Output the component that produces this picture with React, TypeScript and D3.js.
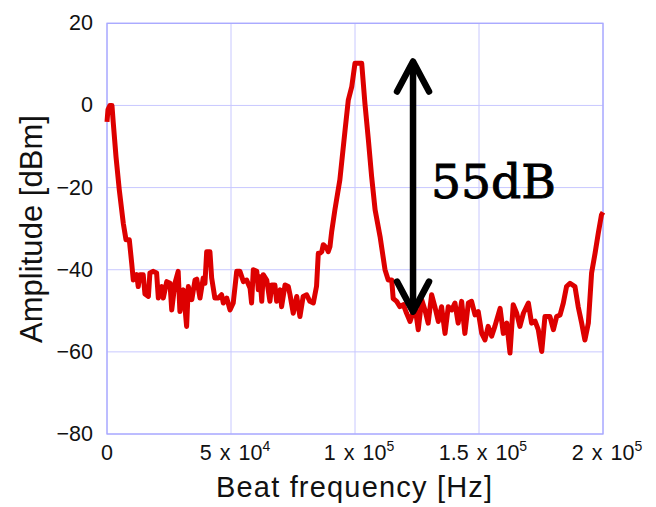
import * as React from "react";
import * as d3 from "d3";

// beat frequency samples [kHz] and measured amplitude [dBm]
const freqKHz = [
  0, 0.4, 1.2, 2.0, 2.54, 3.63, 4.96, 6.57, 7.66, 8.99, 9.96, 10.6, 11.97, 12.6, 13.3, 14.6,
  15.3, 16.7, 17.3, 18.7, 20.0, 20.7, 22.1, 22.7, 24.1, 25.4, 26.1, 27.4, 28.7, 29.4, 30.8,
  32.1, 32.8, 34.2, 35.5, 36.2, 37.5, 38.8, 39.5, 40.2, 41.5, 42.2, 43.5, 44.9, 46.2, 46.9,
  48.3, 49.6, 50.9, 52.3, 53.6, 55.0, 56.3, 57.7, 58.3, 59.0, 60.4, 61.0, 61.7, 62.4, 63.0,
  64.4, 65.7, 66.4, 67.7, 68.4, 69.8, 70.4, 71.8, 73.1, 73.8, 75.1, 76.5, 77.8, 79.1, 80.5,
  81.8, 83.2, 84.5, 85.2, 85.9, 86.6, 87.2, 88.6, 89.2, 89.9, 90.6, 91.9, 93.9, 96.0, 97.3,
  98.7, 100.0, 102.7, 104.0, 105.4, 106.7, 108.1, 110.1, 112.1, 113.4, 114.8, 115.4, 116.8,
  118.1, 119.5, 120.8, 122.2, 124.2, 125.5, 126.9, 128.2, 129.5, 130.9, 132.2, 133.6, 134.9,
  136.3, 137.6, 139.0, 140.3, 141.6, 143.0, 144.3, 145.7, 147.0, 148.4, 149.7, 151.1, 152.4,
  153.7, 155.1, 156.4, 158.5, 159.8, 161.2, 162.5, 163.8, 165.2, 166.5, 167.9, 169.9, 171.2,
  172.6, 173.9, 175.3, 176.6, 178.6, 180.0, 181.3, 182.7, 184.0, 185.3, 186.7, 188.7, 190.0,
  191.4, 192.7, 194.1, 195.4, 196.8, 198.1, 199.4, 200.0,
];
const amplitude = [
  -4, -1, 0, 0, -4.3, -12.5, -20.6, -28.7, -32.7, -32.7, -38.4, -42.5, -41.2, -44.1, -41.2, -41.2,
  -45.9, -46.5, -40.8, -40.4, -40.8, -46.9, -44.1, -46.9, -42.9, -43.3, -49.8, -43.3, -40.4, -50.2, -44.9,
  -53.8, -44.1, -47.3, -42.5, -42.3, -46.9, -42.0, -43.3, -35.6, -35.6, -42.0, -46.9, -46.9, -46.1, -48.1,
  -46.9, -49.8, -48.1, -40.4, -40.4, -42.9, -42.5, -44.5, -48.1, -40.0, -40.4, -44.9, -41.7, -47.7, -41.2,
  -42.5, -47.7, -43.7, -43.7, -47.7, -44.9, -49.0, -43.7, -44.1, -46.1, -50.6, -46.5, -51.4, -46.5, -46.1,
  -47.7, -48.1, -44, -36, -36, -35.6, -33.9, -34.7, -35.6, -34.4, -30.7, -25.4, -18.1, -6.0, 1.3,
  4.6, 10.3, 10.3, 0.5, -8.4, -17.3, -25.4, -31.9, -40, -42.5, -42.5, -47, -47.7,
  -49, -48.5, -50.6, -52.6, -49, -54.6, -47.3, -49.8, -53, -46.1, -49, -52.6, -49,
  -55.5, -49, -49.8, -48.1, -53, -47.7, -55.5, -48.1, -47.7, -51, -50.2, -55.5, -57.1,
  -53.8, -56.2, -53.8, -49.4, -55.5, -53, -60.3, -48.5, -50.6, -53.8, -50.6, -48.1, -53,
  -52.5, -54.6, -59.9, -51.4, -51.4, -54.6, -51.4, -51, -48.1, -44.1, -43.3, -44.1, -49,
  -53, -57.1, -53, -40.8, -36, -31.1, -26.6, -26,
];

const xTicks = [0, 5e4, 1e5, 1.5e5, 2e5];
const xTickMantissa = ["0", "5 x 10", "1 x 10", "1.5 x 10", "2 x 10"];
const xTickExponent = ["", "4", "5", "5", "5"];
const yTicks = [20, 0, -20, -40, -60, -80];

// annotation: peak-to-floor arrow
const arrowFreq = 123.4e3;
const arrowTop = 10.7;
const arrowBottom = -50.2;
const arrowLabel = "55dB";

const W = 656;
const H = 507;

export default function App() {
  const x = d3.scaleLinear().domain([0, 2e5]).range([107, 603]);
  const y = d3.scaleLinear().domain([-80, 20]).range([434, 23.3]);

  const pts: [number, number][] = freqKHz.map((f, i) => [f * 1000, amplitude[i]]);
  const line = d3
    .line<[number, number]>()
    .x((d) => x(d[0]))
    .y((d) => y(d[1]));

  const ax = x(arrowFreq);
  const at = y(arrowTop);
  const ab = y(arrowBottom);
  const hw = 16;
  const hh = 30;

  const sans = "'Liberation Sans', Arial, sans-serif";

  return (
    <svg
      width={W}
      height={H}
      style={{ position: "absolute", left: 0, top: 0, background: "#fff" }}
    >
      {/* grid */}
      <g stroke="#c8c8ff" strokeWidth={1}>
        {xTicks.map((t) => (
          <line key={"gx" + t} x1={x(t)} x2={x(t)} y1={y(20)} y2={y(-80)} />
        ))}
        {yTicks.map((t) => (
          <line key={"gy" + t} x1={x(0)} x2={x(2e5)} y1={y(t)} y2={y(t)} />
        ))}
      </g>
      <rect
        x={x(0)}
        y={y(20)}
        width={x(2e5) - x(0)}
        height={y(-80) - y(20)}
        fill="none"
        stroke="#a8a8ff"
        strokeWidth={1.3}
      />

      {/* y tick labels */}
      <g fontFamily={sans} fontSize={21.5} fill="#111" textAnchor="end">
        {yTicks.map((t) => (
          <text key={"yl" + t} x={93} y={y(t)} dominantBaseline="central">
            {t < 0 ? "\u2212" + Math.abs(t) : String(t)}
          </text>
        ))}
      </g>

      {/* x tick labels */}
      <g fontFamily={sans} fontSize={21.5} fill="#111" textAnchor="middle">
        {xTicks.map((t, i) => (
          <text key={"xl" + t} x={x(t) + (i === 0 ? 0 : 4)} y={460} wordSpacing={2}>
            {xTickMantissa[i]}
            {xTickExponent[i] && (
              <tspan fontSize={14} dy={-9}>
                {xTickExponent[i]}
              </tspan>
            )}
          </text>
        ))}
      </g>

      {/* axis titles */}
      <text
        x={354}
        y={497}
        fontFamily={sans}
        fontSize={29}
        fill="#111"
        textAnchor="middle"
        textLength={276}
        lengthAdjust="spacing"
      >
        Beat frequency [Hz]
      </text>
      <text
        transform={`translate(42,229) rotate(-90)`}
        fontFamily={sans}
        fontSize={31}
        fill="#111"
        textAnchor="middle"
        textLength={228}
        lengthAdjust="spacing"
      >
        Amplitude [dBm]
      </text>

      {/* data */}
      <path
        d={line(pts) || ""}
        fill="none"
        stroke="#dd0000"
        strokeWidth={5}
        strokeLinejoin="round"
      />

      {/* arrow */}
      <g stroke="#000" strokeWidth={6.5} strokeLinecap="round" strokeLinejoin="round" fill="none">
        <line x1={ax} x2={ax} y1={at + 2} y2={ab - 2} />
        <polyline points={`${ax - hw},${at + hh} ${ax},${at} ${ax + hw},${at + hh}`} />
        <polyline points={`${ax - hw},${ab - hh} ${ax},${ab} ${ax + hw},${ab - hh}`} />
      </g>
      <text
        x={431}
        y={198}
        fontFamily="'DejaVu Serif', serif"
        fontSize={47}
        fill="#000"
        stroke="#000"
        strokeWidth={0.9}
        textLength={125}
        lengthAdjust="spacingAndGlyphs"
      >
        {arrowLabel}
      </text>
    </svg>
  );
}
